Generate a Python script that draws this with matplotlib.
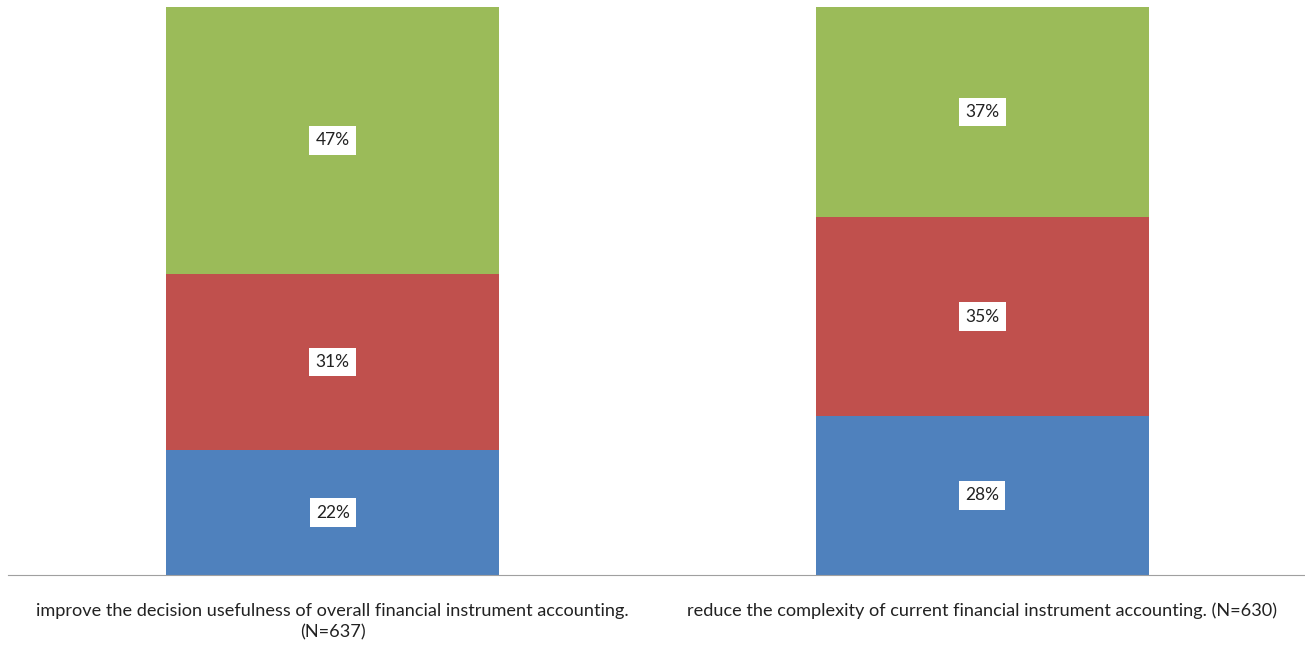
import numpy as np
import matplotlib.pyplot as plt

plt.rcParams["font.family"] = ["Lato", "DejaVu Sans"]

categories = [
    "improve the decision usefulness of overall financial instrument accounting.\n(N=637)",
    "reduce the complexity of current financial instrument accounting. (N=630)",
]
bottom_vals = [22, 28]
middle_vals = [31, 35]
top_vals = [47, 37]
series = [bottom_vals, middle_vals, top_vals]
colors = ["#4F81BD", "#C0504D", "#9BBB59"]

fig = plt.figure(figsize=(13.05, 6.45), dpi=100)
ax = fig.add_axes([8 / 1305, 70 / 645, 1297 / 1305, 568 / 645])

x = np.arange(len(categories))
base = np.zeros(len(categories))
for vals, color in zip(series, colors):
    vals = np.array(vals, dtype=float)
    ax.bar(x, vals, bottom=base, width=0.513, color=color, edgecolor="none")
    # percentage labels sit in white boxes at the middle of each segment
    for xi, b, v in zip(x, base, vals):
        ax.text(xi, b + v / 2, f"{int(v)}%", ha="center", va="center",
                fontsize=12.5, color="#222222",
                bbox=dict(facecolor="white", edgecolor="none", pad=4.5))
    base += vals

ax.set_xlim(-0.5, 1.497)
ax.set_ylim(0, 100)
ax.set_yticks([])
ax.set_xticks(x)
ax.set_xticklabels(categories, fontsize=13.1, color="#222222", linespacing=1.4)
ax.tick_params(axis="x", length=0, pad=20)
for side in ["top", "right", "left"]:
    ax.spines[side].set_visible(False)
ax.spines["bottom"].set_color("#A0A0A0")

fig.savefig("out.png", dpi=100)
